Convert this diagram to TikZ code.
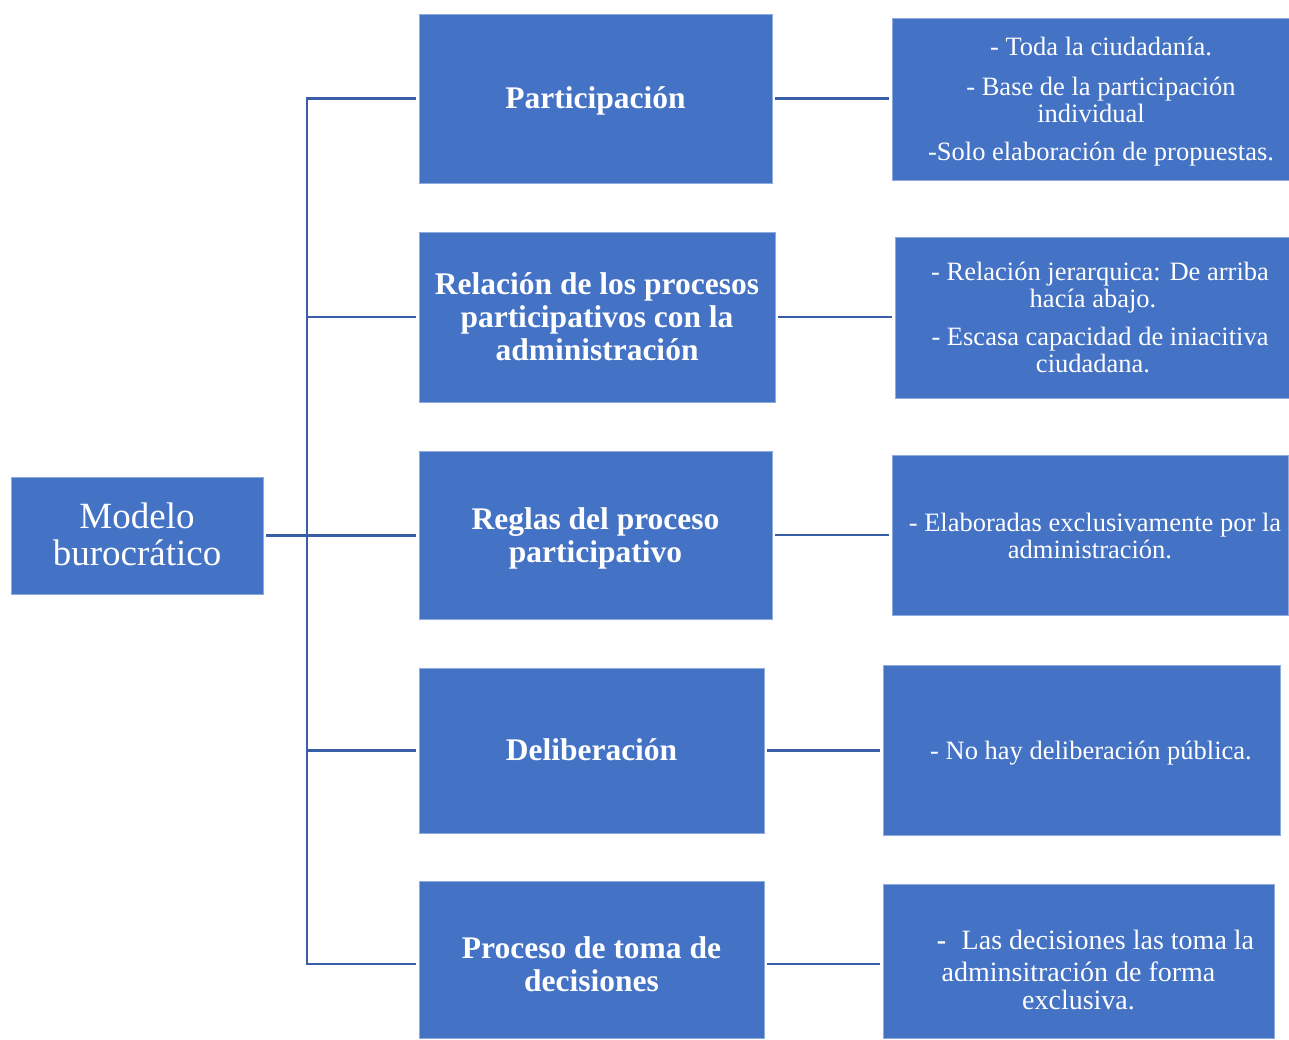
\documentclass[tikz,border=0pt]{standalone}
\usepackage{fontspec}
\setmainfont{Liberation Serif}
\definecolor{boxblue}{HTML}{4472C4}
\definecolor{boxedge}{HTML}{8FAADC}
\definecolor{linkblue}{HTML}{3A5DA8}
\newcommand{\boxtext}[3]{\hspace*{#1}\raisebox{-#2}[\height][\depth]{\begin{tabular}{@{}c@{}}#3\end{tabular}}}
\begin{document}
\begin{tikzpicture}[x=1pt,y=-1pt,
  box/.style={draw=boxedge,line width=0.8pt,fill=boxblue,text=white,inner sep=0pt,outer sep=0pt,align=center},
  midbox/.style={box,font=\bfseries\fontsize{31.5}{33}\selectfont},
  rightbox/.style={box,font=\fontsize{26.5}{27}\selectfont},
  rootbox/.style={box,font=\fontsize{37}{37}\selectfont},
  conn/.style={draw=linkblue,line width=2.4pt}
]
\useasboundingbox (0,0) rectangle (1289,1039);

\node[rootbox,minimum width=252pt,minimum height=117pt] (root) at (137,535.5) {\boxtext{0pt}{4pt}{Modelo\\burocrático}};

\node[midbox,minimum width=353pt,minimum height=169pt] (p1) at (595.5,98.5) {\boxtext{0pt}{3pt}{Participación}};
\node[midbox,minimum width=356pt,minimum height=170pt] (p2) at (597,317) {\boxtext{0pt}{4pt}{Relación de los procesos\\participativos con la\\administración}};
\node[midbox,minimum width=353pt,minimum height=168pt] (p3) at (595.5,535) {\boxtext{0pt}{4pt}{Reglas del proceso\\participativo}};
\node[midbox,minimum width=345pt,minimum height=165pt] (p4) at (591.5,750.5) {\boxtext{0pt}{3pt}{Deliberación}};
\node[midbox,minimum width=345pt,minimum height=157pt] (p5) at (591.5,959.5) {\boxtext{0pt}{9pt}{Proceso de toma de\\decisiones}};

\node[rightbox,minimum width=397pt,minimum height=162pt] (r1) at (1090.5,99) {\boxtext{21pt}{4pt}{- Toda la ciudadanía.\\[13pt]- Base de la participación\\individual\hspace*{20pt}\\[11pt]-Solo elaboración de propuestas.}};
\node[rightbox,minimum width=394pt,minimum height=161pt] (r2) at (1092,317.5) {\boxtext{16pt}{4pt}{- Relación jerarquica: De arriba\\hacía abajo.\hspace*{14pt}\\[11pt]- Escasa capacidad de iniacitiva\\ciudadana.\hspace*{14pt}}};
\node[rightbox,minimum width=396pt,minimum height=160pt] (r3) at (1090,535) {\boxtext{10pt}{5pt}{- Elaboradas exclusivamente por la\\administración.\hspace*{10pt}}};
\node[rightbox,minimum width=397pt,minimum height=170pt] (r4) at (1081.5,750) {\boxtext{19pt}{4pt}{- No hay deliberación pública.}};
\node[rightbox,font=\fontsize{28}{28}\selectfont,minimum width=391pt,minimum height=154pt] (r5) at (1078.5,961) {\boxtext{0pt}{13pt}{\hspace*{34pt}\textbf{-}\hspace{15.5pt}Las decisiones las toma la\\[4pt]adminsitración de forma\\exclusiva.}};

\coordinate (bus) at (307,535);
\coordinate (p5w) at ([yshift=-4.5pt]p5.west);
\coordinate (p5e) at ([yshift=-4.5pt]p5.east);

\draw[conn,shorten <=3pt,shorten >=3pt] (root.east) -- (root.east -| p3.west);
\draw[conn,shorten <=3pt,shorten >=3pt] (p1.west) -- (p1.west -| bus) -- (p5w -| bus) -- (p5w);
\draw[conn,shorten <=3pt] (p2.west) -- (p2.west -| bus);
\draw[conn,shorten <=3pt] (p3.west) -- (p3.west -| bus);
\draw[conn,shorten <=3pt] (p4.west) -- (p4.west -| bus);

\draw[conn,shorten <=3pt,shorten >=3pt] (p1.east) -- (p1.east -| r1.west);
\draw[conn,shorten <=3pt,shorten >=3pt] (p2.east) -- (p2.east -| r2.west);
\draw[conn,shorten <=3pt,shorten >=3pt] (p3.east) -- (p3.east -| r3.west);
\draw[conn,shorten <=3pt,shorten >=3pt] (p4.east) -- (p4.east -| r4.west);
\draw[conn,shorten <=3pt,shorten >=3pt] (p5e) -- (p5e -| r5.west);
\end{tikzpicture}
\end{document}
